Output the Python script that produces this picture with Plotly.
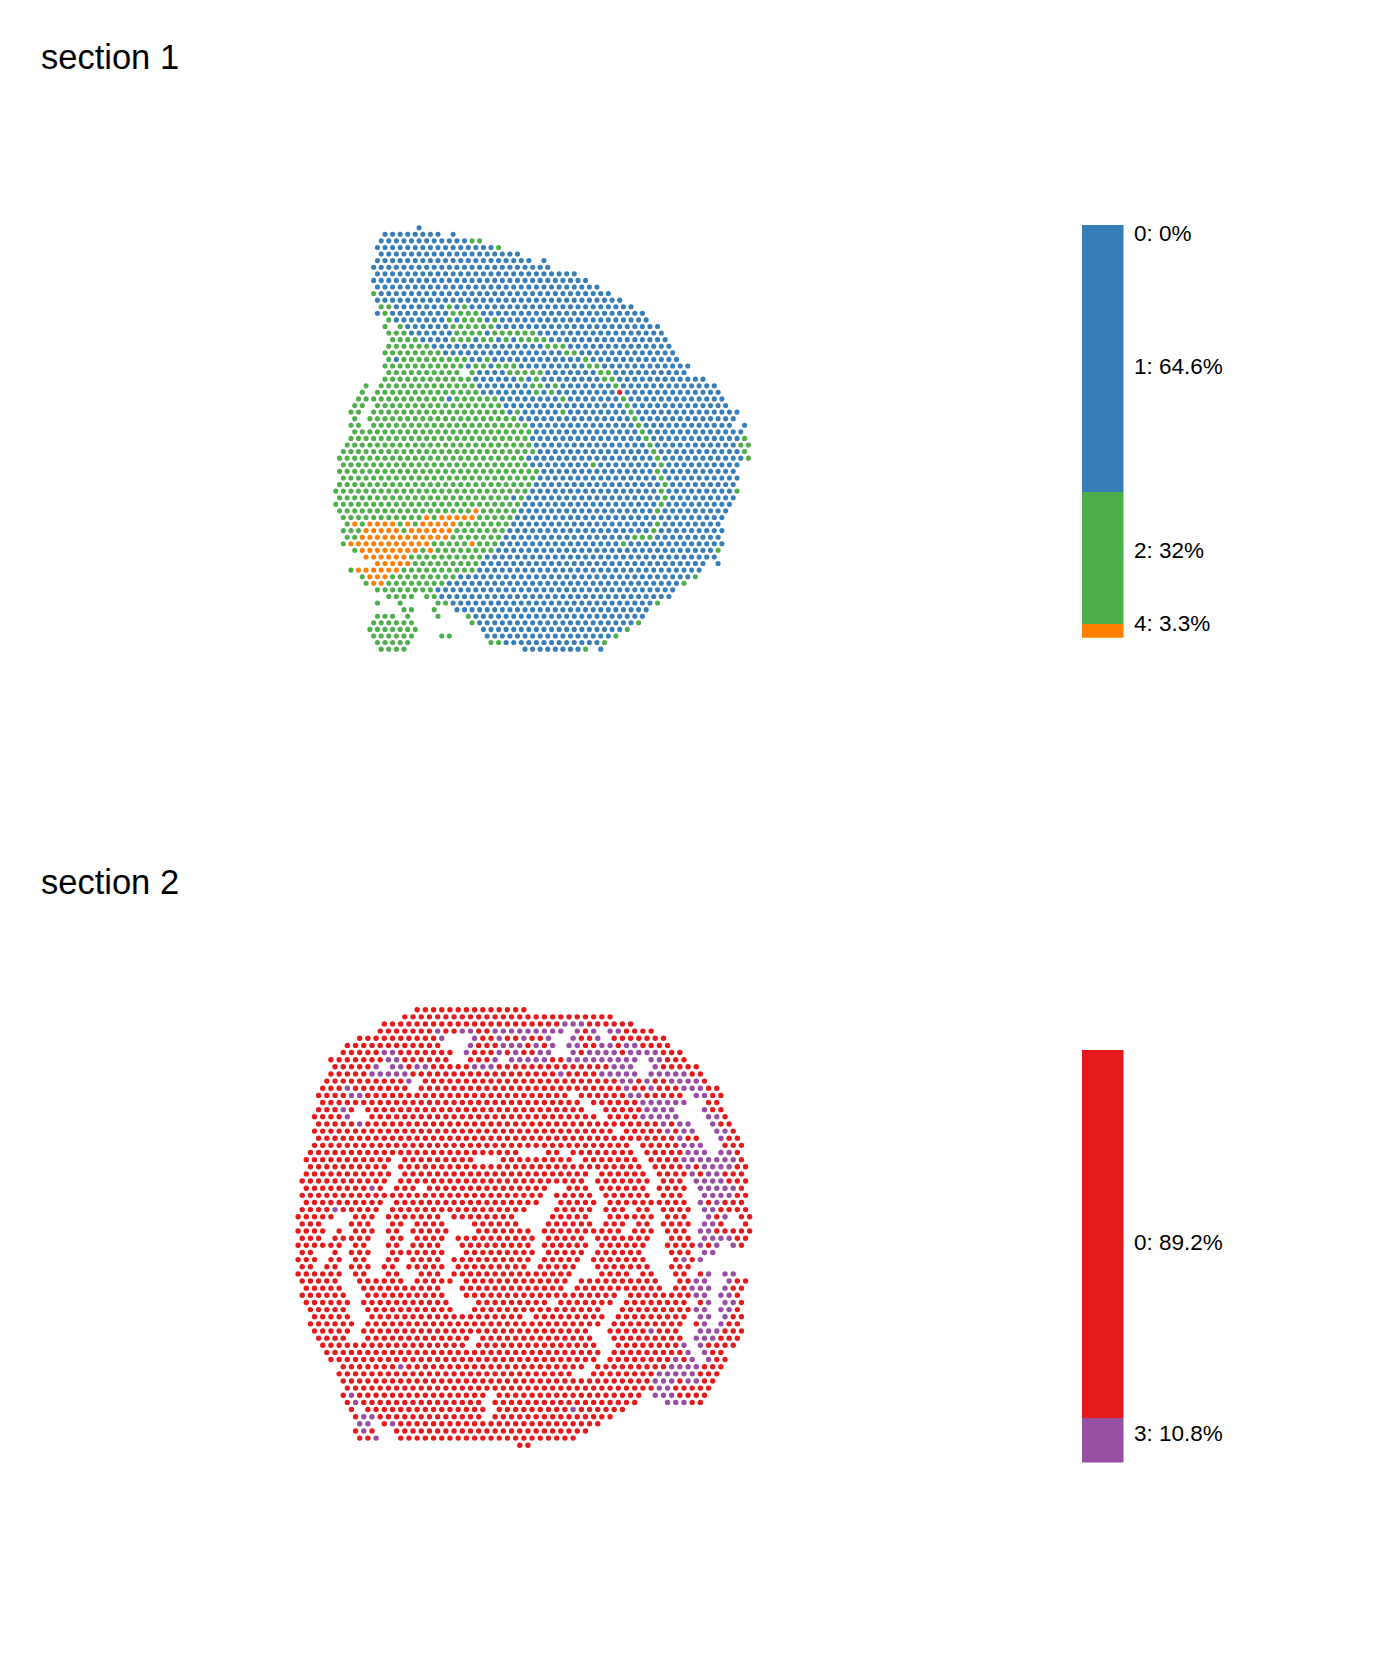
import plotly.graph_objects as go

# Spots: one string per array row, as "first-last:cluster" runs
# of half-step array columns (every second column index is occupied on a row).
section1_rows = [
"22:1","13-27:1 31:1","12-34:1 36-38:2","11-41:1 43:2","12-48:1","11-51:1 55:1","10-56:1","11-63:1",
"10-66:1","11-69:1","10:2 12-72:1","11-75:1",
"12-14:2 16-28:1 30:2 32:1 34:2 36-78:1",
"11:1 13:2 15-29:1 31-37:2 39-81:1",
"14:2 16-28:1 30:2 32:1 34-38:2 40:1 42:2 44-82:1",
"13:2 17:2 19-29:1 31-41:2 43-85:1",
"14-18:2 20-30:1 32-38:2 40:1 42-52:2 54-86:1",
"15-21:2 23-29:1 31-35:2 37:1 39-41:2 43:1 45:2 47:1 49-55:2 57-87:1",
"14-24:2 26-54:1 56-60:2 62-88:1",
"13-27:2 29-59:1 61-63:2 65-89:1",
"14:2 16:1 18-34:2 36-38:1 40:2 42-64:1 66:2 68-90:1",
"13-33:2 35:1 37-39:2 41:1 43-47:2 49-65:1 67-69:2 71-93:1",
"14-32:2 36:2 38-44:1 46-54:2 56-68:1 70-72:2 74-92:1",
"13-35:2 37-47:1 49:2 51:1 53:2 55-69:1 71-73:2 75-97:1",
"8:2 12-36:2 38-50:1 52-54:2 56:1 58:2 60-72:1 74:2 76-100:1",
"7:2 11-37:2 39-51:1 53:2 55:1 57:2 59-73:1 75:0 77-101:1",
"6-8:2 10-28:2 30:1 32-42:2 44-58:1 60:2 62-74:1 76:2 78-102:1",
"5-7:2 11-43:2 45-75:1 77:2 79-103:1",
"4-6:2 10-44:2 46:1 48:2 50-58:1 60:2 62-76:1 78:2 80-106:1",
"5:2 9-47:2 49-77:1 79:2 81-105:1",
"4-6:2 10-50:2 52-78:1 80:2 82-104:1 108:1",
"5-51:2 53-79:1 81:2 83-107:1",
"4-50:2 52-80:1 82:2 84-106:1 108:2",
"3-51:2 53-81:1 83:2 85-105:1 107-109:2",
"2-52:2 54-82:1 84:2 86-106:1 108:2",
"1-49:2 51-83:1 85:2 87-107:1 109:2",
"2-50:2 52-66:1 68:2 70-84:1 86:2 88-106:1",
"1-53:2 55-83:1 85:2 87-105:1",
"2-52:2 54-84:1 86:2 88-106:1",
"1-51:2 53-85:1 87:2 89-105:1",
"0-50:2 52-84:1 86:2 88-104:1 106:2",
"1-45:2 47:1 49:2 51-85:1 87:2 89-105:1",
"0-48:2 50-84:1 86:2 88-104:1",
"1-35:2 37:4 39-47:2 49-83:1 85:2 87-103:1",
"2-22:2 24:4 26:2 28-36:4 38-46:2 48-102:1",
"3:2 5:4 7:2 9-15:4 17:2 19:4 21:2 23-31:4 33-45:2 47-83:1 85:2 87-101:1",
"2-6:2 8-16:4 18:2 20-30:4 32-44:2 46-82:1 84:2 86-102:1",
"3-5:2 7-29:4 31-43:2 45-77:1 79-83:2 85-101:1",
"2:2 4-24:4 26-34:2 36:4 38-42:2 44-74:1 76:2 78-102:1",
"5:2 7-21:4 23:2 25:4 27-41:2 43-99:1 101:2",
"8-18:4 20-38:2 40-100:1",
"11-19:4 21-37:2 39-97:1 101:1",
"4:2 6-16:4 18-36:2 38-96:1",
"7:2 9-13:4 15-31:2 33-93:1 95:2",
"8:2 10-12:4 14-28:2 30-90:1 92:2",
"11-25:2 27-89:1",
"14-20:2 24-26:2 28-88:1",
"11:2 17:2 27-29:2 31-83:1 85:2",
"18-20:2 26:2 32-82:1",
"11-15:2 19:2 27:2 35:2 37-81:1",
"10-20:2 36:2 38-78:1 80:2",
"9-21:2 39-75:1 77:2",
"10-20:2 28-30:2 40-72:1 74:2",
"11-19:2 41-43:2 45-69:1 71:2",
"12-18:2 50-64:1 66:2 70:1",
]

section2_rows = [
"29-55:0","26-76:0","21-63:0 65-69:3 71-81:0",
"20-32:0 34:3 36-38:0 40-42:3 44-46:0 48-64:3 68:3 70:0 72:3 76-78:3 80-86:0",
"15-33:0 35:3 43:3 45-47:0 49:3 51-53:0 55:3 57-59:0 61:3 67:3 69-71:0 73:3 77-89:0",
"12-34:0 42:3 44-48:0 50-54:3 56:0 58:3 60:0 62:3 66-68:3 70-72:0 74-76:3 78:0 80-82:3 84-90:0",
"11-19:0 21-23:3 25-37:0 41:3 43-47:0 49:3 51:0 53:3 55-57:0 59-61:3 67:3 69:0 71-77:3 79:0 81-87:3 89-93:0",
"8-20:0 22-24:3 26-36:0 42-46:0 48:3 52-60:3 62-64:0 66-82:3 86-88:3 90-94:0",
"9-17:0 19:3 23-25:3 27:0 29-31:3 33-41:0 43-47:3 49-75:0 77-81:3 87:3 89-97:0",
"8-16:0 18-26:3 28-62:0 64:3 66-72:0 74-82:3 86-94:3 96-98:0",
"7-25:0 27:3 31-77:0 79-81:3 83:0 85:3 87-89:0 91-97:3 99:0",
"6-10:0 12:3 14-26:0 30-78:0 80:3 82-84:0 86:3 88-92:0 94-98:3 100-102:0",
"5-11:0 13-15:3 17-65:0 69-79:0 81-83:3 85-93:0 97-99:3 101-103:0",
"6-68:0 72-82:0 84-94:3 100-102:0",
"5-9:0 11:3 13:0 17-69:0 75-83:0 85-91:3 99:3 101-103:0",
"4-10:0 12:3 18-72:0 76-82:0 84-92:3 100-102:3 104:0",
"5-13:0 15:3 17-87:0 89:3 91:0 93-95:3 101:3 103-105:0",
"4-76:0 80-88:0 90:3 92:0 94-96:3 102-104:3 106:0",
"5-91:0 93:3 95-97:0 103:3 105-107:0",
"4-80:0 84-92:0 94-98:3 104-108:0",
"3-53:0 61-63:0 67-81:0 85-93:0 95-99:3 103-105:3 107:0",
"2-22:0 26-42:0 50-66:0 70-82:0 86-92:0 94-106:3 108:0",
"3-21:0 25-83:0 87-93:0 95:3 97:0 99-105:3 107-109:0",
"2-22:0 26-70:0 74-84:0 88-94:0 96:3 98:0 100-102:3 104-108:0",
"1-21:0 25-69:0 73-85:0 89-93:0 97-103:3 105-109:0",
"2-16:0 18:3 20:0 24-28:0 32-60:0 66-70:0 74-84:0 88-94:0 98-106:3 108:0",
"1-59:0 63-71:0 75-85:0 89-93:0 99-105:3 107-109:0",
"2-20:0 24-58:0 64-72:0 76-86:0 88-94:0 98:3 100:0 102:3 104-108:0",
"1-7:0 9:3 11-19:0 23-55:0 63-71:0 75-79:0 83-85:0 89-95:0 99-101:3 103-109:0",
"0-8:0 14-18:0 22-34:0 38-52:0 62-70:0 76-86:0 90-94:0 100:3 102:0 104:3 108-110:0",
"1-5:0 13-17:0 23-25:0 29-35:0 43-53:0 61-71:0 75-79:0 83-85:0 89-95:0 99-101:3 103:0 109:0",
"0-6:0 10:0 14-18:0 22-24:0 28-36:0 44-56:0 60-78:0 82-86:0 90-94:0 98-100:3 102-110:0",
"1-5:0 9-17:0 23-25:0 29-35:0 39-57:0 61-69:0 73-85:0 91-95:0 99-105:3 107-109:0",
"0-10:0 14-16:0 22-24:0 28-34:0 40-56:0 60-70:0 74-84:0 90-96:0 98:3 100:0 102:3 106:3 108:0",
"1-3:0 9:0 13-17:0 23-35:0 41-57:0 61-69:0 73-83:0 91-95:0 99-101:3",
"0-4:0 8-10:0 14-16:0 22-24:0 28-34:0 38-56:0 60-68:0 72-84:0 92:0 94:3 96:0 98:3",
"1-3:0 7-9:0 13-17:0 21-23:0 27-35:0 39-55:0 59-67:0 73-85:0 91-95:0",
"0-10:0 14-16:0 22-24:0 30-34:0 38-66:0 74-80:0 84-86:0 92-94:0 98:0 100:3 104-106:3",
"1-9:0 15-25:0 29-37:0 41-65:0 69-87:0 93-95:0 97-99:3 105:3 107-109:0",
"2-10:0 16-34:0 40-64:0 68-88:0 92-94:0 96-100:3 104:3 106-108:0",
"1-11:0 17-35:0 41-77:0 81-95:0 97-99:3 103-105:3 107:0",
"2-12:0 16-36:0 44-60:0 64-76:0 80-94:0 98:0 100:3 104-106:3 108:0",
"3-11:0 17-37:0 43-73:0 79-95:0 97-99:3 103-105:3 107:0",
"4-12:0 18-54:0 58-74:0 78-94:0 98-100:3 104:3 106-108:0",
"3-13:0 17-73:0 77-93:0 97:0 99:3 103:3 105-107:0",
"4-12:0 16-70:0 76-84:0 86:3 88-92:0 98-102:3 104-108:0",
"5-11:0 17-41:0 45-71:0 77-93:0 97-101:3 103-107:0",
"6-40:0 44-72:0 78-92:0 94:3 98:3 100-106:0",
"7-73:0 77-93:0 95:3 99:3 101-103:0",
"8-72:0 76-90:0 92:3 94:0 96:3 100:3 102-104:0",
"11-23:0 25:3 27-69:0 73-89:0 91-97:3 99-103:0",
"10-66:0 72-86:0 88-96:3 98-102:0",
"11-85:0 87-91:3 93:0 95-97:3 99-101:0",
"12-86:0 88-90:3 92-100:0",
"11:0 13:3 15-45:0 49-83:0 87-91:3 93-99:0",
"12:0 14:3 16-44:0 48-82:0 90-94:3 96-98:0",
"13:0 17-45:0 49-65:0 67:3 69-79:0",
"14:0 16-18:3 20-44:0 48-76:0",
"15-17:3 21:0 23:3 25-73:0",
"14:0 16:3 18:0 24-70:0",
"15-17:0 19:3 25-67:0",
"54-56:0",
]

section_titles = ["section 1", "section 2"]
legend1_clusters = ["0", "1", "2", "4"]
legend1_percent = [0, 64.6, 32, 3.3]
legend1_text = ["0: 0%", "1: 64.6%", "2: 32%", "4: 3.3%"]
legend2_clusters = ["0", "3"]
legend2_percent = [89.2, 10.8]
legend2_text = ["0: 89.2%", "3: 10.8%"]
colors1 = {"0": "#E41A1C", "1": "#377EB8", "2": "#4DAF4A", "4": "#FF7F00"}
colors2 = {"0": "#E41A1C", "3": "#984EA3"}

PAGE = 8  # browser's default body margin
W, H = 1400 - 2 * PAGE, 1680 - 2 * PAGE


def spots(rows):
    out = {}
    for r, row in enumerate(rows):
        for run in row.split():
            span, lab = run.split(":")
            a, _, b = span.partition("-")
            for c in range(int(a), int(b or a) + 1, 2):
                xs, ys = out.setdefault(lab, ([], []))
                xs.append(c)
                ys.append(r)
    return out


def fx(px):
    return (px - PAGE) / W


def fy(px):
    return 1 - (px - PAGE) / H


fig = go.Figure()


def add_panel(rows, colors, xa, ya, x_px, y_px, x0, dx, y0, dy, size):
    data = spots(rows)
    for lab, (xs, ys) in data.items():
        fig.add_trace(go.Scatter(x=xs, y=ys, mode="markers", xaxis=xa, yaxis=ya, showlegend=False,
                                 marker=dict(size=size, color=colors[lab], line=dict(width=0))))
    common = dict(visible=False, showgrid=False, zeroline=False)
    fig.layout[xa.replace("x", "xaxis")] = dict(
        domain=[fx(x_px[0]), fx(x_px[1])],
        range=[(x_px[0] - x0) / dx, (x_px[1] - x0) / dx], anchor=ya, **common)
    fig.layout[ya.replace("y", "yaxis")] = dict(
        domain=[fy(y_px[1]), fy(y_px[0])],
        range=[(y_px[1] - y0) / dy, (y_px[0] - y0) / dy], anchor=xa, **common)


def add_stack(clusters, values, colors, xa, ya, y_px):
    for c, v in zip(clusters, values):
        fig.add_trace(go.Bar(x=[0], y=[v], width=1, xaxis=xa, yaxis=ya, showlegend=False,
                             marker=dict(color=colors[c], line=dict(width=0))))
    common = dict(visible=False, showgrid=False, zeroline=False)
    fig.layout[xa.replace("x", "xaxis")] = dict(
        domain=[fx(1081.5), fx(1123.5)], range=[-0.5, 0.5], anchor=ya, **common)
    fig.layout[ya.replace("y", "yaxis")] = dict(
        domain=[fy(y_px[1]), fy(y_px[0])], range=[sum(values), 0], anchor=xa, **common)


add_panel(section1_rows, colors1, "x", "y", (300, 790), (200, 680), 335.8, 3.785, 227.7, 6.585, 5.1)
add_panel(section2_rows, colors2, "x2", "y2", (270, 790), (985, 1465), 298.1, 4.105, 1009.7, 7.14, 5.4)
add_stack(legend1_clusters, legend1_percent, colors1, "x3", "y3", (225, 637.7))
add_stack(legend2_clusters, legend2_percent, colors2, "x4", "y4", (1050, 1462.5))


def label(text, x_px, y_px, size):
    fig.add_annotation(text=text, x=fx(x_px), y=fy(y_px), xref="paper", yref="paper",
                       xanchor="left", yanchor="middle", showarrow=False,
                       font=dict(size=size, color="#000000"))


label(section_titles[0], 39, 57, 34.5)
label(section_titles[1], 39, 881.5, 34.5)
for t, y in zip(legend1_text, [233.5, 366, 550.5, 623.5]):
    label(t, 1132, y, 22.5)
for t, y in zip(legend2_text, [1242.5, 1433]):
    label(t, 1132, y, 22.5)

fig.update_layout(width=W, height=H, autosize=False, margin=dict(l=0, r=0, t=0, b=0),
                  barmode="stack", bargap=0, plot_bgcolor="#FFFFFF", paper_bgcolor="#FFFFFF",
                  font=dict(family="Liberation Sans"), hovermode="closest")
fig.write_html("out.html")
